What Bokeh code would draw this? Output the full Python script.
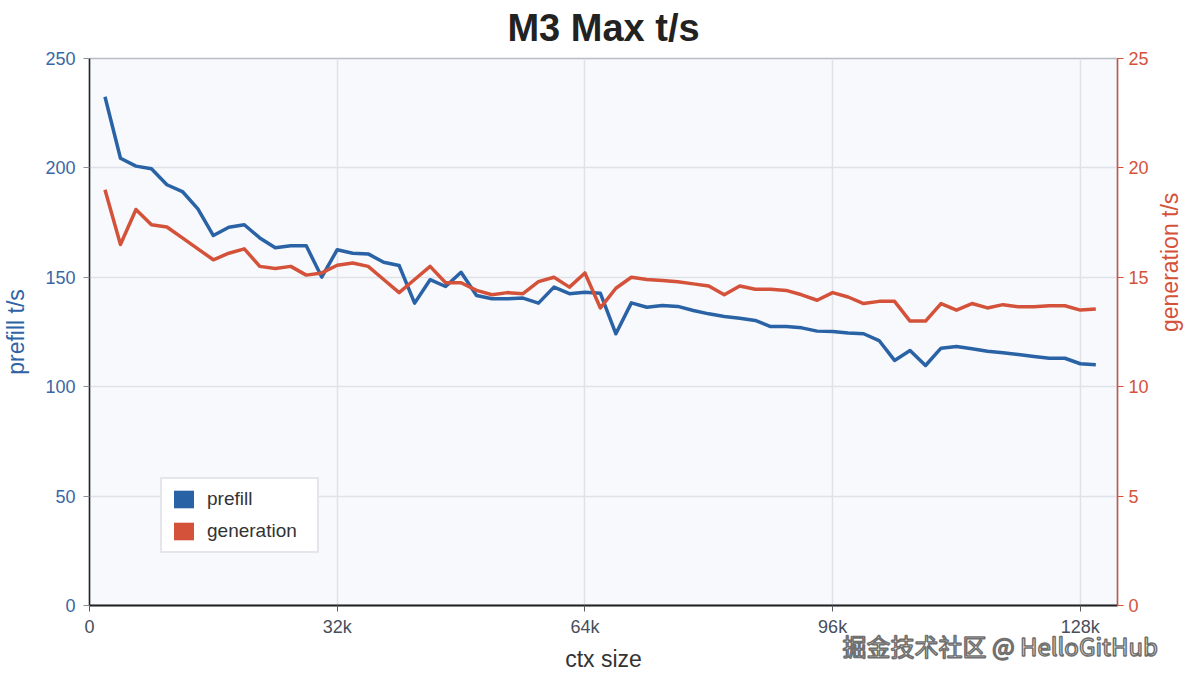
import math
from bokeh.plotting import figure
from bokeh.models import Range1d, LinearAxis, FixedTicker, Legend, LegendItem, Title
from bokeh.embed import file_html
from bokeh.resources import INLINE

# context sizes in thousands of tokens
ctx_k = [2, 4, 6, 8, 10, 12, 14, 16, 18, 20, 22, 24, 26, 28, 30, 32,
         34, 36, 38, 40, 42, 44, 46, 48, 50, 52, 54, 56, 58, 60, 62, 64,
         66, 68, 70, 72, 74, 76, 78, 80, 82, 84, 86, 88, 90, 92, 94, 96,
         98, 100, 102, 104, 106, 108, 110, 112, 114, 116, 118, 120, 122, 124, 126, 128, 130]

prefill = [232.5, 204.4, 200.8, 199.6, 192.3, 189.2, 181.3, 169.1, 172.9, 174.0, 168.0, 163.5, 164.4, 164.4, 150.1, 162.6,
           161.0, 160.7, 156.9, 155.4, 138.2, 148.9, 145.8, 152.3, 141.7, 140.2, 140.2, 140.5, 138.2, 145.5, 142.5, 143.2,
           142.7, 124.2, 138.3, 136.3, 137.1, 136.7, 134.8, 133.3, 132.1, 131.3, 130.3, 127.5, 127.5, 126.9, 125.4, 125.2,
           124.5, 124.2, 121.1, 112.0, 116.5, 109.7, 117.6, 118.4, 117.3, 116.2, 115.5, 114.7, 113.8, 113.0, 113.0, 110.5, 110.0]

generation = [19.0, 16.5, 18.1, 17.4, 17.3, 16.8, 16.3, 15.8, 16.1, 16.3, 15.5, 15.4, 15.5, 15.1, 15.2, 15.55,
              15.65, 15.5, 14.9, 14.3, 14.9, 15.5, 14.75, 14.75, 14.4, 14.2, 14.3, 14.25, 14.8, 15.0, 14.55, 15.2,
              13.6, 14.5, 15.0, 14.9, 14.85, 14.8, 14.7, 14.6, 14.2, 14.6, 14.45, 14.45, 14.4, 14.2, 13.95, 14.3,
              14.1, 13.8, 13.9, 13.9, 13.0, 13.0, 13.8, 13.5, 13.8, 13.6, 13.75, 13.65, 13.65, 13.7, 13.7, 13.5, 13.55]

x_ticks = [0, 32000, 64000, 96000, 128000]
x_tick_labels = ["0", "32k", "64k", "96k", "128k"]
left_ticks = [0, 50, 100, 150, 200, 250]
right_ticks = [0, 5, 10, 15, 20, 25]

ctx = [k * 1000 for k in ctx_k]

BLUE = "#2a62a6"
RED = "#d4523a"
FONT = "Liberation Sans"

p = figure(width=1198, height=678, output_backend="svg", toolbar_location=None,
           x_range=Range1d(0, 132800), y_range=Range1d(0, 250),
           min_border_left=89, min_border_right=80, min_border_top=58, min_border_bottom=73,
           background_fill_color="#f7f9fc", border_fill_color="white",
           title="M3 Max t/s")
p.extra_y_ranges = {"gen": Range1d(0, 25)}

p.title.align = "center"
p.title.vertical_align = "top"
p.title.text_font = FONT
p.title.text_font_size = "38px"
p.title.text_font_style = "bold"
p.title.text_color = "#222222"
p.title.standoff = 13.5

p.outline_line_color = "#b8bcc4"
p.outline_line_width = 1.5

# x axis
xa = p.xaxis[0]
xa.axis_label = None
xa.ticker = FixedTicker(ticks=x_ticks)
xa.major_label_overrides = dict(zip(x_ticks, x_tick_labels))
xa.axis_line_color = "#222222"
xa.axis_line_width = 2
xa.major_tick_line_color = "#555c66"
xa.major_tick_out = 6
xa.major_tick_in = 0
xa.minor_tick_out = 0
xa.minor_tick_in = 0
xa.major_label_text_color = "#474e5c"
xa.major_label_text_font = FONT
xa.major_label_text_font_size = "18px"
xa.major_label_standoff = 5

# left axis
ya = p.yaxis[0]
ya.ticker = FixedTicker(ticks=left_ticks)
ya.axis_label = "prefill t/s"
ya.axis_line_color = "#222222"
ya.axis_line_width = 1.5
ya.major_tick_line_color = "#8a9099"
ya.major_tick_out = 6
ya.major_tick_in = 0
ya.minor_tick_out = 0
ya.minor_tick_in = 0
ya.major_label_text_color = "#3a67a3"
ya.major_label_text_font = FONT
ya.major_label_text_font_size = "18px"
ya.major_label_standoff = 8
ya.axis_label_text_font = FONT
ya.axis_label_text_font_size = "23px"
ya.axis_label_text_font_style = "normal"
ya.axis_label_text_color = "#2f63a6"
ya.axis_label_standoff = 13

# right axis: ticks and numbers
ra = LinearAxis(y_range_name="gen", ticker=FixedTicker(ticks=right_ticks))
ra.axis_line_color = RED
ra.axis_line_width = 1.5
ra.major_tick_line_color = RED
ra.major_tick_out = 6
ra.major_tick_in = 0
ra.minor_tick_out = 0
ra.minor_tick_in = 0
ra.major_label_text_color = RED
ra.major_label_text_font = FONT
ra.major_label_text_font_size = "18px"
p.add_layout(ra, "right")

# outer right axis that only carries the title, reading upwards
rt = LinearAxis(y_range_name="gen", ticker=FixedTicker(ticks=[]))
rt.axis_label = "generation t/s"
rt.axis_line_color = None
rt.major_tick_out = 0
rt.major_tick_in = 0
rt.minor_tick_out = 0
rt.minor_tick_in = 0
rt.major_label_standoff = 0
rt.axis_label_text_font = FONT
rt.axis_label_text_font_size = "23px"
rt.axis_label_text_font_style = "normal"
rt.axis_label_text_color = RED
rt.axis_label_text_align = "center"
rt.axis_label_standoff = 18
try:
    rt.axis_label_orientation = math.pi / 2
except Exception:
    pass
p.add_layout(rt, "right")

p.xgrid.grid_line_color = "#dfe2e8"
p.xgrid.grid_line_width = 1.5
p.ygrid.grid_line_color = "#dfe2e8"
p.ygrid.grid_line_width = 1.5

p.line(ctx, prefill, line_color=BLUE, line_width=3.5, line_join="round")
p.line(ctx, generation, y_range_name="gen", line_color=RED, line_width=3.5, line_join="round")

# zero-area quads that only serve as square legend swatches
sw_prefill = p.quad(left=ctx[:1], right=ctx[:1], top=prefill[:1], bottom=prefill[:1],
                    fill_color=BLUE, line_color=None)
sw_gen = p.quad(left=ctx[:1], right=ctx[:1], top=prefill[:1], bottom=prefill[:1],
                fill_color=RED, line_color=None)

legend = Legend(items=[LegendItem(label="prefill", renderers=[sw_prefill]),
                       LegendItem(label="generation", renderers=[sw_gen])],
                location=(71, 52), glyph_width=25, glyph_height=22,
                label_text_font=FONT, label_text_font_size="19px", label_text_color="#333333",
                label_standoff=11, label_width=101, padding=9, spacing=10, margin=0,
                border_line_color="#c9cdd8", border_line_width=2,
                background_fill_color="white", background_fill_alpha=1.0)
p.add_layout(legend)

# watermark, then the x axis title, stacked under the tick labels
wm = Title(text="掘金技术社区 @ HelloGitHub", align="left", offset=753, standoff=-28,
           text_font="Noto Sans CJK SC", text_font_size="24px", text_font_style="normal",
           text_color="white")
try:
    wm.text_outline_color = "#707070"
except Exception:
    wm.text_color = "#9a9a9a"
p.add_layout(wm, "below")

p.add_layout(Title(text="ctx size", align="center", standoff=-10,
                   text_font=FONT, text_font_size="23px", text_font_style="normal",
                   text_color="#333333"), "below")

open("out.html", "w").write(file_html(p, INLINE))
